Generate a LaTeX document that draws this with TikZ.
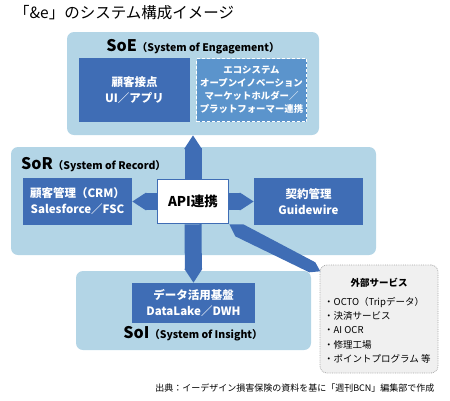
\documentclass[tikz,border=0pt]{standalone}
\usepackage{fontspec}
\setmainfont{Noto Sans CJK JP}
\usetikzlibrary{arrows.meta}

\definecolor{paleblue}{HTML}{B3D5E6}
\definecolor{deepblue}{HTML}{3F6DB5}
\definecolor{midblue}{HTML}{5B94CC}
\definecolor{extgray}{HTML}{F0F0F0}
\definecolor{extline}{HTML}{A8A8A8}

\newcommand{\layername}[2]{{\bfseries\fontsize{16}{17}\selectfont #1}{\bfseries\fontsize{10.5}{11}\selectfont （#2）}}

\begin{document}
\begin{tikzpicture}[
    x=1pt,y=-1pt,
    layer/.style={fill=paleblue,rounded corners=7pt,inner sep=0pt},
    core/.style={fill=deepblue,text=white,align=center,inner sep=0pt,
      font=\bfseries\fontsize{11.5}{16}\selectfont},
    partner/.style={fill=midblue,draw=white,densely dashed,line width=0.7pt,text=white,
      align=center,inner sep=0pt,font=\bfseries\fontsize{9.4}{13}\selectfont},
    hub/.style={fill=white,draw=deepblue,line width=1.6pt,inner sep=0pt,
      font=\bfseries\fontsize{13.5}{15}\selectfont},
    flow/.style={draw=deepblue,line width=17pt,-{Triangle[length=14pt,width=0pt 1]}}
  ]
    \useasboundingbox (0,0) rectangle (450,400);
    \node[anchor=west,inner sep=0pt,font=\fontsize{15.5}{17}\selectfont] (title) at (14,13) {「\&e」のシステム構成イメージ};

    % 3つの層
    \node[layer,minimum width=252,minimum height=103] (soe) at (193,83.5) {};
    \node[layer,minimum width=365,minimum height=108] (sor) at (193.5,201) {};
    \node[layer,minimum width=235,minimum height=79] (soi) at (193.5,310.5) {};
    \node (soetitle) at (193,47) {\layername{SoE}{System of Engagement}};
    \node[anchor=west,inner sep=0pt] (sortitle) at (21,165) {\layername{SoR}{System of Record}};
    \node (soititle) at (193,334) {\layername{SoI}{System of Insight}};

    % 各システム
    \node[core,minimum width=111,minimum height=64] (touch) at (134.5,90) {顧客接点\\UI／アプリ};
    \node[partner,minimum width=110,minimum height=63] (eco) at (251.5,90)
      {エコシステム\\オープンイノベーション\\マーケットホルダー／\\プラットフォーマー連携};
    \node[core,minimum width=109,minimum height=47] (crm) at (77.5,201.5) {顧客管理（CRM）\\Salesforce／FSC};
    \node[hub,minimum width=71,minimum height=44] (api) at (193,201.5) {API連携};
    \node[core,minimum width=109,minimum height=47] (policy) at (308.5,201.5) {契約管理\\Guidewire};
    \node[core,minimum width=123,minimum height=40] (lake) at (193.5,303) {データ活用基盤\\DataLake／DWH};

    % 外部サービス
    \node[fill=extgray,draw=extline,densely dotted,line width=0.8pt,rounded corners=7pt,
      minimum width=118,minimum height=108,inner sep=0pt] (ext) at (379,319) {};
    \node[font=\bfseries\fontsize{9.5}{11}\selectfont] (exttitle) at (379,283) {外部サービス};
    \node[anchor=north west,align=left,inner sep=0pt,font=\fontsize{9.5}{14.25}\selectfont] (extlist) at (324,297)
      {・OCTO（Tripデータ）\\・決済サービス\\・AI OCR\\・修理工場\\・ポイントプログラム 等};

    % API連携からの矢印
    \draw[flow] (api.north) -- (soe.south);
    \draw[flow] (api.south) -- (lake.north);
    \draw[flow] (api.west) -- (crm.east);
    \draw[flow] (api.east) -- (policy.west);
    \fill[deepblue] (api.south east) -- ++(14,0) -- ++(72,38) -- ++(5,9) -- ++(-11,1) -- ++(-74,-36) -- cycle;

    \node[anchor=east,font=\fontsize{9}{10}\selectfont] (source) at (438,388)
      {出典：イーデザイン損害保険の資料を基に「週刊BCN」編集部で作成};
  \end{tikzpicture}
\end{document}
